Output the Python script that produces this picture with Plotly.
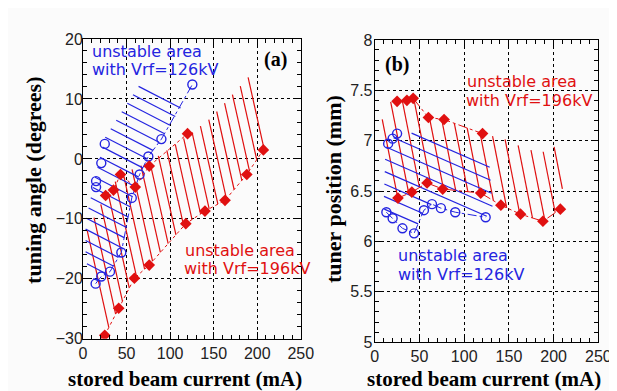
import numpy as np
import plotly.graph_objects as go

W, H = 617, 391

# ---------------- data : panel (a) tuning angle ----------------
a_red_hi_x = [26, 35, 43, 60, 76, 120]
a_red_hi_y = [-6.1, -5.2, -2.6, -4.7, -1.2, 4.2]
a_red_lo_x = [25, 41, 59, 76, 118, 140, 163, 188, 207]
a_red_lo_y = [-29.4, -24.9, -19.9, -17.7, -10.8, -8.7, -6.9, -2.6, 1.5]
a_blue_lo_x = [14.5, 21, 31, 44, 56, 65, 75, 90, 125.5]
a_blue_lo_y = [-20.8, -19.6, -18.8, -15.6, -6.5, -2.6, 0.4, 3.3, 12.4]
a_blue_hi_x = [15, 15, 21, 25]
a_blue_hi_y = [-4.7, -3.7, -0.7, 2.5]

# unstable-area outlines (hatched zones)
a_red_zone_x = [3, 26, 43, 76, 100, 123, 145, 167, 194, 212, 207, 188, 163, 140, 118, 76, 59, 41, 25, 21]
a_red_zone_y = [-12.5, -6, -2.6, -0.5, 1.8, 4.2, 6.6, 10, 14.3, 2.6, 1.5, -2.6, -6.9, -8.7, -10.8, -17.7, -19.9, -24.9, -29.4, -30]
a_blue_zone_x = [3, 3, 14, 25, 45, 67, 115, 90, 75, 65, 56, 50, 44, 31, 21, 14.5]
a_blue_zone_y = [-17, -10.5, -3, 3.5, 8, 12.8, 9.2, 3.3, 0.4, -2.6, -6.5, -11, -15.6, -18.8, -19.6, -20.8]

# ---------------- data : panel (b) tuner position ----------------
b_red_hi_x = [25, 36, 43, 60, 77.5, 120.5]
b_red_hi_y = [7.39, 7.40, 7.42, 7.23, 7.21, 7.07]
b_red_lo_x = [26, 41.5, 58.5, 76, 118.5, 141, 163, 188, 207.5]
b_red_lo_y = [6.43, 6.49, 6.58, 6.52, 6.48, 6.36, 6.27, 6.20, 6.32]
b_blue_hi_x = [15, 20, 25]
b_blue_hi_y = [6.97, 7.02, 7.07]
b_blue_lo_x = [13, 20, 31, 44, 55, 64, 74, 90, 124]
b_blue_lo_y = [6.29, 6.23, 6.13, 6.08, 6.31, 6.37, 6.33, 6.29, 6.24]

b_red_zone_x = [7, 13, 25, 36, 43, 60, 77.5, 120.5, 151, 165, 181, 194, 205, 212, 207.5, 188, 163, 141, 118.5, 76, 58.5, 41.5, 26, 13]
b_red_zone_y = [7.16, 7.38, 7.39, 7.40, 7.42, 7.23, 7.21, 7.07, 7.0, 6.93, 6.89, 6.89, 6.97, 6.72, 6.32, 6.2, 6.27, 6.36, 6.48, 6.52, 6.58, 6.49, 6.43, 6.5]
b_blue_zone_x = [10, 12, 25, 56, 128, 132, 124, 90, 74, 64, 55, 44, 31, 20, 13]
b_blue_zone_y = [6.33, 6.93, 7.07, 7.08, 6.8, 6.3, 6.24, 6.29, 6.33, 6.37, 6.31, 6.08, 6.13, 6.23, 6.29]

x_ticks = [0, 50, 100, 150, 200, 250]
a_y_range = [-30, 20]
b_y_range = [5, 8]

# ---------------- layout geometry (pixels) ----------------
A = dict(x0=73, x1=297, yt=24, yb=337.5, xr=[0, 250], yr=a_y_range)
B = dict(x0=373, x1=603, yt=25, yb=341, xr=[0, 250], yr=b_y_range)

RED = "#e01010"
BLUE = "#2424e0"


def to_px(P, xs, ys):
    xs = np.asarray(xs, float); ys = np.asarray(ys, float)
    px = P["x0"] + (xs - P["xr"][0]) / (P["xr"][1] - P["xr"][0]) * (P["x1"] - P["x0"])
    py = P["yb"] - (ys - P["yr"][0]) / (P["yr"][1] - P["yr"][0]) * (P["yb"] - P["yt"])
    return px, py


def to_data(P, px, py):
    x = P["xr"][0] + (px - P["x0"]) / (P["x1"] - P["x0"]) * (P["xr"][1] - P["xr"][0])
    y = P["yr"][0] + (P["yb"] - py) / (P["yb"] - P["yt"]) * (P["yr"][1] - P["yr"][0])
    return x, y


def hatch(P, zx, zy, angle, spacing, phase=0.5):
    px, py = to_px(P, zx, zy)
    pts = np.column_stack([px, py])
    th = np.radians(angle)
    d = np.array([np.cos(th), np.sin(th)])
    n = np.array([-np.sin(th), np.cos(th)])
    proj = pts @ n
    xs, ys = [], []
    for c in np.arange(proj.min() + spacing * phase, proj.max(), spacing):
        hits = []
        for i in range(len(pts)):
            p, q = pts[i], pts[(i + 1) % len(pts)]
            a, b = p @ n - c, q @ n - c
            if (a <= 0 < b) or (b <= 0 < a):
                t = a / (a - b)
                hits.append(p + t * (q - p))
        hits.sort(key=lambda h: h @ d)
        for k in range(0, len(hits) - 1, 2):
            for h in (hits[k], hits[k + 1]):
                x, y = to_data(P, h[0], h[1])
                xs.append(x); ys.append(y)
            xs.append(None); ys.append(None)
    return xs, ys


fig = go.Figure()


def add_panel(P, xa, ya, red_zone, blue_zone, red_ang, red_sp, blue_ang, blue_sp,
              red_series, blue_series, red_dash, blue_dash):
    hx, hy = hatch(P, *red_zone, red_ang, red_sp)
    fig.add_trace(go.Scatter(x=hx, y=hy, mode="lines", xaxis=xa, yaxis=ya,
                             line=dict(color=RED, width=1.2), hoverinfo="skip"))
    hx, hy = hatch(P, *blue_zone, blue_ang, blue_sp)
    fig.add_trace(go.Scatter(x=hx, y=hy, mode="lines", xaxis=xa, yaxis=ya,
                             line=dict(color=BLUE, width=1.2), hoverinfo="skip"))
    for (sx, sy, joined) in blue_series:
        fig.add_trace(go.Scatter(x=sx, y=sy, mode="lines+markers" if joined else "markers",
                                 xaxis=xa, yaxis=ya,
                                 line=dict(color=BLUE, width=1, dash=blue_dash),
                                 marker=dict(symbol="circle-open", size=9, color=BLUE,
                                             line=dict(width=1.4, color=BLUE))))
    for (sx, sy) in red_series:
        fig.add_trace(go.Scatter(x=sx, y=sy, mode="lines+markers", xaxis=xa, yaxis=ya,
                                 line=dict(color=RED, width=1, dash=red_dash),
                                 marker=dict(symbol="diamond", size=9, color=RED)))


add_panel(A, "x", "y", (a_red_zone_x, a_red_zone_y), (a_blue_zone_x, a_blue_zone_y),
          77.6, 9.8, 27.6, 10.5,
          [(a_red_hi_x, a_red_hi_y), (a_red_lo_x, a_red_lo_y)],
          [(a_blue_lo_x, a_blue_lo_y, True), (a_blue_hi_x, a_blue_hi_y, False)],
          "dot", "dashdot")
add_panel(B, "x2", "y2", (b_red_zone_x, b_red_zone_y), (b_blue_zone_x, b_blue_zone_y),
          79, 12, 24, 12,
          [(b_red_hi_x, b_red_hi_y), (b_red_lo_x, b_red_lo_y)],
          [(b_blue_lo_x, b_blue_lo_y, True), (b_blue_hi_x, b_blue_hi_y, False)],
          "dashdot", "dashdot")

tickfont = dict(family="Liberation Sans, Arial, sans-serif", size=16, color="#222")


def axis(P, horizontal, rng, dtick, minor_dtick, anchor, standoff):
    if horizontal:
        dom = [P["x0"] / W, P["x1"] / W]
    else:
        dom = [1 - P["yb"] / H, 1 - P["yt"] / H]
    d = dict(domain=dom, range=rng, anchor=anchor,
             showline=True, linecolor="black", linewidth=1, mirror="allticks",
             ticks="inside", ticklen=7, tickwidth=1, tickcolor="black",
             showgrid=True, gridcolor="black", gridwidth=1, griddash="dot",
             zeroline=False, tickfont=tickfont, ticklabelstandoff=standoff,
             minor=dict(ticks="inside", ticklen=4, dtick=minor_dtick, tick0=rng[0],
                        tickcolor="black", showgrid=False),
             fixedrange=True)
    if horizontal:
        d["tickvals"] = x_ticks
    else:
        d["dtick"] = dtick
        d["tick0"] = rng[0]
    return d


fig.update_layout(
    width=W, height=H, margin=dict(l=0, r=0, t=0, b=0),
    paper_bgcolor="#fbfbfb", plot_bgcolor="#fbfbfb", showlegend=False,
    xaxis=axis(A, True, [0, 250], 50, 10, "y", 0),
    yaxis=axis(A, False, a_y_range, 10, 2, "x", -4),
    xaxis2=axis(B, True, [0, 250], 50, 10, "y2", 0),
    yaxis2=axis(B, False, b_y_range, 0.5, 0.1, "x2", -2),
)


def ann(text, px, py, color, size, family, xanchor="left", angle=0, bold=False):
    fig.add_annotation(text=f"<b>{text}</b>" if bold else text, x=px / W, y=1 - py / H,
                       xref="paper", yref="paper", showarrow=False,
                       xanchor=xanchor, yanchor="middle", textangle=angle,
                       borderpad=0,
                       font=dict(color=color, size=size, family=family))


SANS = "DejaVu Sans, sans-serif"
SERIF = "Liberation Serif, Times New Roman, serif"
ann("unstable area", 81, 37, BLUE, 16, SANS)
ann("with Vrf=126kV", 81, 56, BLUE, 16, SANS)
ann("unstable area", 177, 245, RED, 16, SANS)
ann("with Vrf=196kV", 176, 264, RED, 16, SANS)
ann("unstable area", 467, 68, RED, 16, SANS)
ann("with Vrf=196kV", 466, 88, RED, 16, SANS)
ann("unstable area", 396, 250, BLUE, 16, SANS)
ann("with Vrf=126kV", 396, 270, BLUE, 16, SANS)
ann("(a)", 271, 45, "black", 20, SERIF, xanchor="center", bold=True)
ann("(b)", 396, 51, "black", 20, SERIF, xanchor="center", bold=True)
ann("stored beam current (mA)", 178, 379, "black", 21, SERIF, xanchor="center", bold=True)
ann("stored beam current (mA)", 485, 379, "black", 21, SERIF, xanchor="center", bold=True)
ann("tuning angle (degrees)", 22, 172, "black", 22, SERIF, xanchor="center", angle=-90, bold=True)
ann("tuner position (mm)", 330, 181, "black", 22, SERIF, xanchor="center", angle=-90, bold=True)

fig.write_html("out.html")
